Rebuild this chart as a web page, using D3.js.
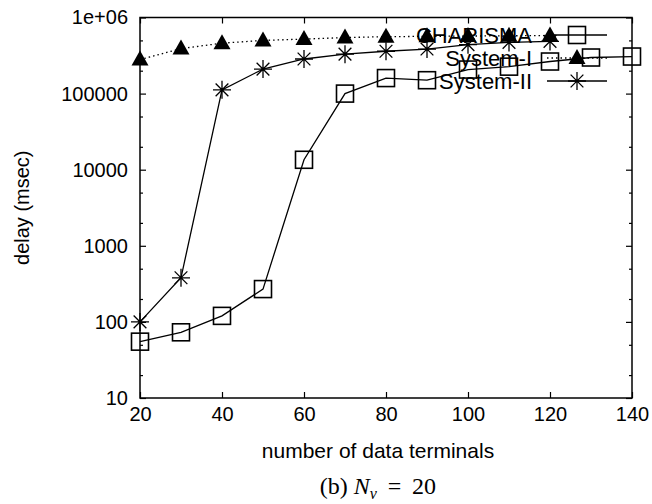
<!DOCTYPE html>
<html>
<head>
<meta charset="utf-8">
<script src="https://cdn.jsdelivr.net/npm/d3@7"></script>
<style>
  body { margin: 0; background: #fff; }
  text { font-family: 'Liberation Sans', Arial, sans-serif; fill: #000; }
</style>
</head>
<body>
<script>
// number of data terminals
var terminals = [20, 30, 40, 50, 60, 70, 80, 90, 100, 110, 120, 130, 140]

// delay (msec)
var charisma = [55, 73, 120, 270, 13500, 100000, 160000, 150000, 207000, 226000, 264000, 298000, 307000]
var systemI = [280000, 390000, 460000, 500000, 520000, 545000, 560000, 565000, 570000, 575000, 580000]
var systemII = [100, 380, 112000, 210000, 285000, 330000, 360000, 385000, 440000, 470000, 485000]

var xTicks = [20, 40, 60, 80, 100, 120, 140]
var yTicks = [10, 100, 1000, 10000, 100000, 1000000]
var seriesNames = ['CHARISMA', 'System-I', 'System-II']

var W = 652, H = 504
var margin = {top: 17.5, right: 20, bottom: 106, left: 140}
var width = W - margin.left - margin.right,
  height = H - margin.top - margin.bottom

var x = d3.scaleLinear().domain([20, 140]).range([0, width])
var y = d3.scaleLog().domain([10, 1e6]).range([height, 0])

// minor ticks at 2 and 5 of each decade
var yMinor = []
yTicks.slice(0, -1).forEach(function (d) { yMinor.push(d * 2, d * 5) })

var svg = d3.select('body').append('svg')
  .attr('width', W)
  .attr('height', H)

var g = svg.append('g')
  .attr('transform', 'translate(' + margin.left + ',' + margin.top + ')')

function fmtY (d) { return d === 1e6 ? '1e+06' : d3.format('d')(d) }

// bottom axis with labels, ticks inward
g.append('g')
  .attr('class', 'axis')
  .attr('transform', 'translate(0,' + height + ')')
  .call(d3.axisBottom(x).tickValues(xTicks).tickSize(-6).tickPadding(9))
// top ticks
g.append('g')
  .attr('class', 'axis')
  .call(d3.axisTop(x).tickValues(xTicks).tickSize(-6).tickFormat(''))

// left axis
g.append('g')
  .attr('class', 'axis')
  .call(d3.axisLeft(y).tickValues(yTicks).tickSize(-6).tickPadding(12).tickFormat(fmtY))
g.append('g')
  .attr('class', 'axis')
  .call(d3.axisLeft(y).tickValues(yMinor).tickSize(-3).tickFormat(''))
// right axis
g.append('g')
  .attr('class', 'axis')
  .attr('transform', 'translate(' + width + ',0)')
  .call(d3.axisRight(y).tickValues(yTicks).tickSize(-6).tickFormat(''))
g.append('g')
  .attr('class', 'axis')
  .attr('transform', 'translate(' + width + ',0)')
  .call(d3.axisRight(y).tickValues(yMinor).tickSize(-3).tickFormat(''))

g.selectAll('.axis .domain').remove()
g.selectAll('.axis line').attr('stroke', '#000').attr('stroke-width', 1.2)
g.selectAll('.axis text')
  .style('font-family', "'Liberation Sans', Arial, sans-serif")
  .style('font-size', '20px')
  .attr('fill', '#000')

// frame
g.append('rect')
  .attr('width', width)
  .attr('height', height)
  .attr('fill', 'none')
  .attr('stroke', '#000')
  .attr('stroke-width', 1.5)

// axis titles
svg.append('text')
  .attr('x', 378)
  .attr('y', 458)
  .attr('text-anchor', 'middle')
  .style('font-size', '21px')
  .text('number of data terminals')

svg.append('text')
  .attr('transform', 'translate(29,' + (margin.top + height / 2) + ') rotate(-90)')
  .attr('text-anchor', 'middle')
  .style('font-size', '20px')
  .text('delay (msec)')

// caption
var cap = svg.append('text')
  .attr('x', 378)
  .attr('y', 494)
  .attr('text-anchor', 'middle')
  .style('font-family', "'Liberation Serif', 'DejaVu Serif', serif")
  .style('font-size', '24px')
cap.append('tspan').text('(b) ')
cap.append('tspan').style('font-style', 'italic').text('N')
cap.append('tspan').attr('dy', 5).style('font-style', 'italic').style('font-size', '16px').text('v')
cap.append('tspan').attr('dy', -5).text('\u2009 = \u200920')

// markers
function square (sel) {
  sel.append('rect')
    .attr('x', -8.5).attr('y', -8.5)
    .attr('width', 17).attr('height', 17)
    .attr('fill', 'none').attr('stroke', '#000').attr('stroke-width', 1.6)
}
function triangle (sel) {
  sel.append('path')
    .attr('d', 'M0,-9L8.5,6L-8.5,6Z')
    .attr('fill', '#000')
}
function star (sel) {
  var r = 9, k = r * Math.SQRT1_2
  sel.append('path')
    .attr('d', 'M0,' + -r + 'V' + r + 'M' + -r + ',0H' + r +
      'M' + -k + ',' + -k + 'L' + k + ',' + k + 'M' + -k + ',' + k + 'L' + k + ',' + -k)
    .attr('fill', 'none').attr('stroke', '#000').attr('stroke-width', 1.3)
}

var series = [
  {name: seriesNames[0], values: charisma, mark: square, dash: null},
  {name: seriesNames[1], values: systemI, mark: triangle, dash: '1.5,3'},
  {name: seriesNames[2], values: systemII, mark: star, dash: null}
]

var line = d3.line()
  .x(function (d) { return x(d.t) })
  .y(function (d) { return y(d.v) })

series.forEach(function (s) {
  var pts = s.values.map(function (v, i) { return {t: terminals[i], v: v} })
  g.append('path')
    .datum(pts)
    .attr('d', line)
    .attr('fill', 'none')
    .attr('stroke', '#000')
    .attr('stroke-width', 1.3)
    .attr('stroke-dasharray', s.dash)
  g.selectAll(null)
    .data(pts)
    .enter().append('g')
    .attr('transform', function (d) { return 'translate(' + x(d.t) + ',' + y(d.v) + ')' })
    .call(s.mark)
})

// legend
var leg = svg.append('g')
series.forEach(function (s, i) {
  var yy = 35 + i * 23
  leg.append('text')
    .attr('x', 532)
    .attr('y', yy)
    .attr('dy', '0.35em')
    .attr('text-anchor', 'end')
    .style('font-size', '22px')
    .text(s.name)
  leg.append('line')
    .attr('x1', 547).attr('x2', 607)
    .attr('y1', yy).attr('y2', yy)
    .attr('stroke', '#000')
    .attr('stroke-width', 1.3)
    .attr('stroke-dasharray', s.dash)
  leg.append('g')
    .attr('transform', 'translate(577,' + yy + ')')
    .call(s.mark)
})
</script>
</body>
</html>
